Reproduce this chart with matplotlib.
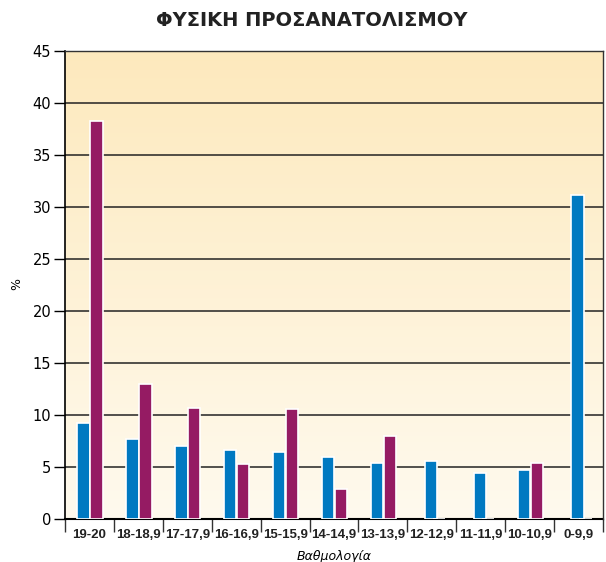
import numpy as np
import matplotlib
matplotlib.use("Agg")
import matplotlib.pyplot as plt
from matplotlib.colors import LinearSegmentedColormap

# grade bands (Physics, orientation course)
categories = ["19-20", "18-18,9", "17-17,9", "16-16,9", "15-15,9", "14-14,9",
              "13-13,9", "12-12,9", "11-11,9", "10-10,9", "0-9,9"]
blue_vals = [9.2, 7.7, 7.05, 6.6, 6.4, 6.0, 5.35, 5.6, 4.4, 4.7, 31.2]
purple_vals = [38.3, 12.95, 10.7, 5.3, 10.6, 2.85, 8.0, np.nan, np.nan, 5.4, np.nan]
yticks = [0, 5, 10, 15, 20, 25, 30, 35, 40, 45]

BLUE = "#0079c1"
PURPLE = "#951b63"

fig = plt.figure(figsize=(6.06, 5.62), dpi=100)
ax = fig.add_axes([0.1073, 0.0765, 0.8877, 0.8328])

n = len(categories)
x = np.arange(n)
ax.set_xlim(-0.5, n - 0.5)
ax.set_ylim(0, 45)

# yellow gradient background
cmap = LinearSegmentedColormap.from_list("bg", ["#fffaee", "#fde9bd"])
grad = np.linspace(0, 1, 256).reshape(-1, 1)
ax.imshow(grad, cmap=cmap, aspect="auto", origin="lower",
          extent=[-0.5, n - 0.5, 0, 45], zorder=0)

for y in yticks[1:-1]:
    ax.axhline(y, color="#222222", lw=1.1, zorder=1)

w = 0.25
has_p = ~np.isnan(np.array(purple_vals))
blue_x = np.where(has_p, x - 0.12, x - 0.02)
ax.bar(blue_x, blue_vals, width=w, color=BLUE, edgecolor="white",
       linewidth=1.2, zorder=3)
ax.bar(x + 0.145, np.nan_to_num(purple_vals), width=w, color=PURPLE,
       edgecolor="white", linewidth=1.2, zorder=3)

for s in ["top", "right"]:
    ax.spines[s].set_color("#333333")
    ax.spines[s].set_linewidth(1.0)
ax.spines["left"].set_linewidth(1.2)
ax.spines["bottom"].set_linewidth(1.5)
ax.spines["bottom"].set_zorder(2)

ax.set_yticks(yticks)
ax.tick_params(axis="y", direction="out", length=8, width=1, labelsize=10.5, pad=2)

# category boundaries as ticks, labels at centres
ax.set_xticks(np.arange(n + 1) - 0.5)
ax.set_xticklabels([])
ax.tick_params(axis="x", which="major", direction="out", length=9, width=1,
               color="#333333")
ax.set_xticks(x, minor=True)
ax.set_xticklabels(categories, minor=True, fontweight="bold", fontsize=9.5,
                   family=["Liberation Sans", "DejaVu Sans"], color="#222222")
ax.tick_params(axis="x", which="minor", length=0, pad=7)

fig.text(0.027, 0.495, "%", rotation=90, ha="center", va="center", fontsize=9)
ax.set_xlabel("Βαθμολογία", fontsize=9, style="italic", labelpad=7)
fig.text(0.515, 0.963, "ΦΥΣΙΚΗ ΠΡΟΣΑΝΑΤΟΛΙΣΜΟΥ", ha="center", va="center",
         fontsize=14, fontweight="bold", color="#222222")

fig.savefig("out.png", dpi=100)
